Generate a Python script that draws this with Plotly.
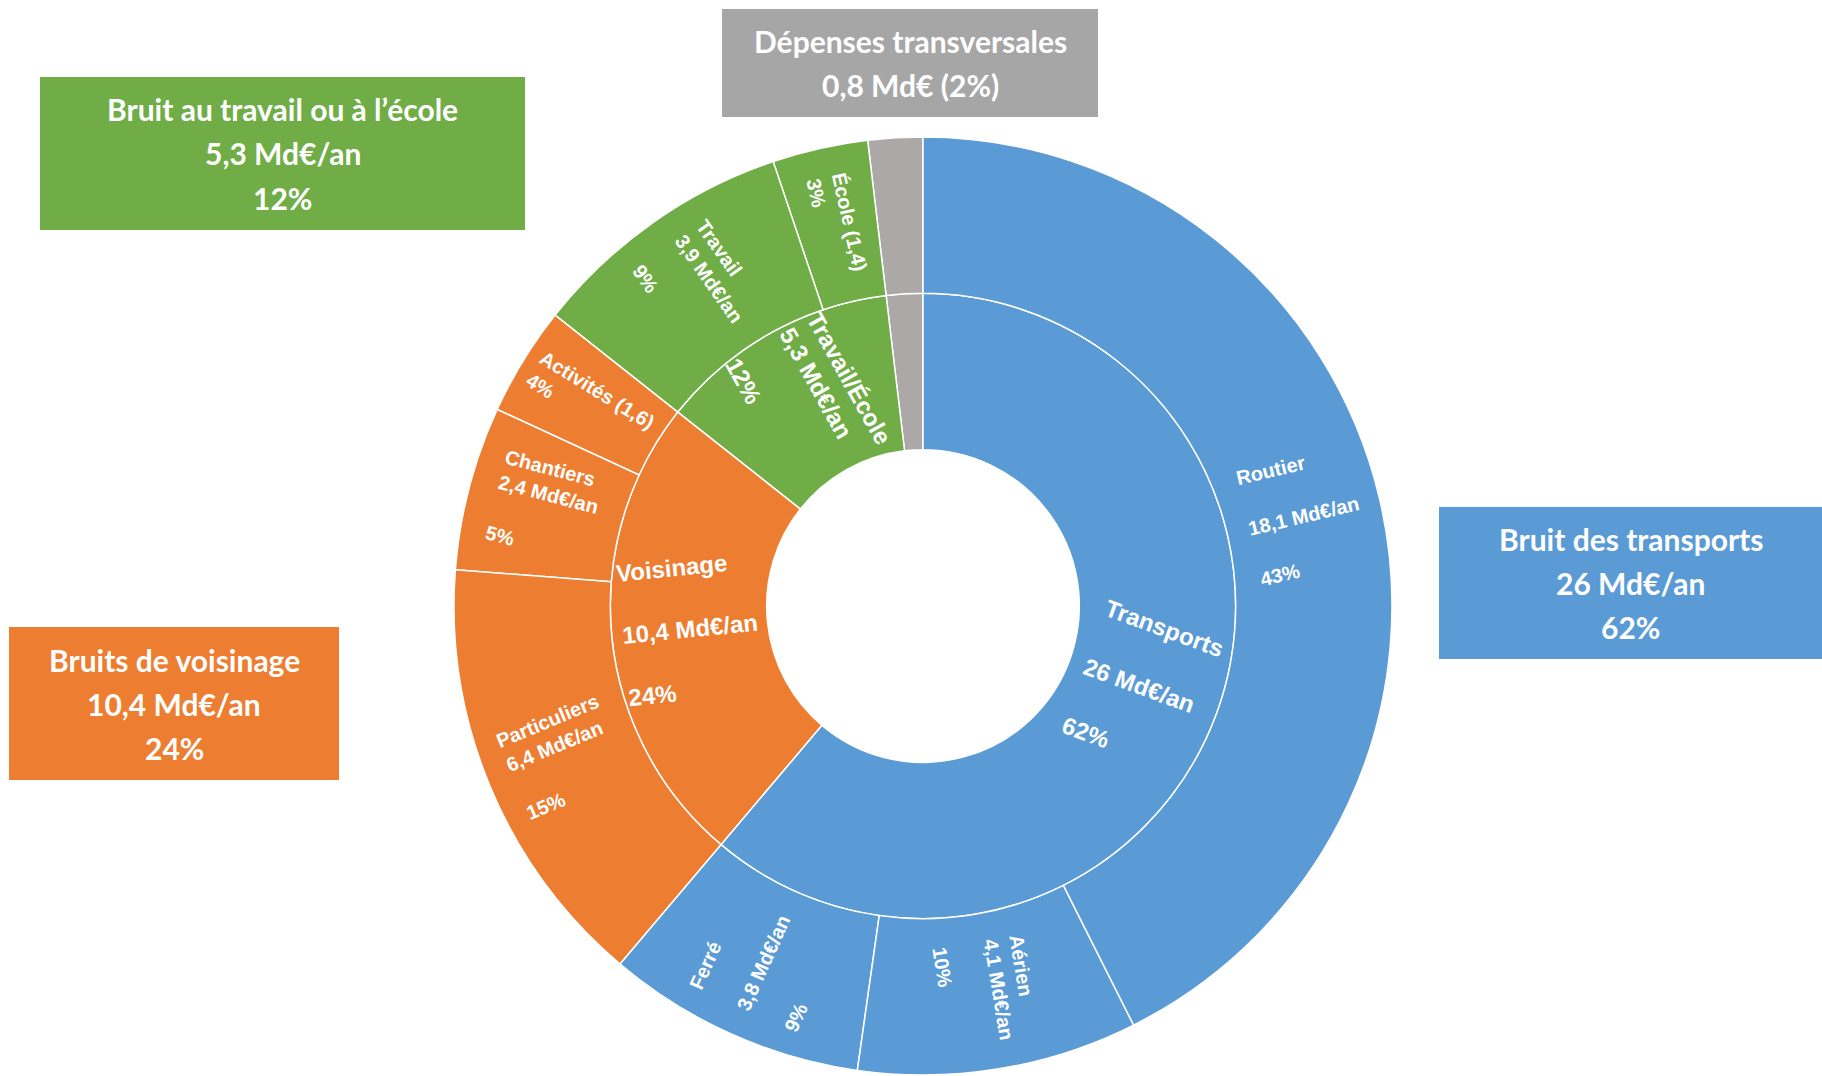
import math
import plotly.graph_objects as go

# Coût social du bruit en France (Md€/an), hiérarchie total -> catégorie -> source
ids = [
    "total",
    "transports", "voisinage", "travail_ecole", "transversal",
    "routier", "aerien", "ferre",
    "particuliers", "chantiers", "activites",
    "travail", "ecole",
    "transversal_detail",
]
parents = [
    "",
    "total", "total", "total", "total",
    "transports", "transports", "transports",
    "voisinage", "voisinage", "voisinage",
    "travail_ecole", "travail_ecole",
    "transversal",
]
values = [
    42.5,
    26.0, 10.4, 5.3, 0.8,
    18.1, 4.1, 3.8,
    6.4, 2.4, 1.6,
    3.9, 1.4,
    0.8,
]
slice_labels = [
    "",
    "Transports<br><br>26 Md€/an<br><br>62%",
    "Voisinage<br><br>10,4 Md€/an<br><br>24%",
    "Travail/École<br>5,3 Md€/an<br><br>12%",
    "",
    "Routier<br><br>18,1 Md€/an<br><br>43%",
    "Aérien<br>4,1 Md€/an<br><br>10%",
    "Ferré<br><br>3,8 Md€/an<br><br>9%",
    "Particuliers<br>6,4 Md€/an<br><br>15%",
    "Chantiers<br>2,4 Md€/an<br><br>5%",
    "Activités (1,6)<br>4%",
    "Travail<br>3,9 Md€/an<br><br>9%",
    "École (1,4)<br>3%",
    "",
]

BLUE, ORANGE, GREEN, GREY = "#5B9BD5", "#ED7D31", "#70AD47", "#ABA8A7"
family_colour = {"total": "white", "transports": BLUE, "voisinage": ORANGE,
                 "travail_ecole": GREEN, "transversal": GREY}
colours = [family_colour[i] if p in ("", "total") else family_colour[p]
           for i, p in zip(ids, parents)]

# Sectors are laid out counter-clockwise from 12 o'clock, so feed them reversed
order = [0] + list(range(1, len(ids)))[::-1]
pick = lambda seq: [seq[k] for k in order]

W, H = 1822, 1076
cx, cy, R = 923, 606, 469

fig = go.Figure(go.Sunburst(
    ids=pick(ids),
    labels=pick(ids),
    parents=pick(parents),
    values=pick(values),
    branchvalues="total",
    sort=False,
    rotation=90,
    textinfo="none",
    marker=dict(colors=pick(colours), line=dict(color="white", width=1.5)),
    leaf=dict(opacity=1),
    hoverinfo="skip",
    domain=dict(x=[(cx - R) / W, (cx + R) / W],
                y=[(H - cy - R) / H, (H - cy + R) / H]),
))

# Radial slice labels: mid-angle of each sector (clockwise from 12 o'clock)
# taken from the cumulative values, placed at the middle of its ring.
annotations = []
total = values[0]
start = {"total": 0.0}
for i, (node, par, v) in enumerate(zip(ids, parents, values)):
    if par == "":
        continue
    a0 = start.get(par, 0.0)
    start[node] = a0
    start[par] = a0 + v
    mid_deg = (a0 + v / 2) / total * 360
    if not slice_labels[i]:
        continue
    depth = 1 if par == "total" else 2
    r = R / 2 if depth == 1 else R * 5 / 6
    th = math.radians(mid_deg)
    px, py = cx + r * math.sin(th), cy - r * math.cos(th)
    angle = mid_deg - 90 if mid_deg < 180 else mid_deg - 270
    annotations.append(dict(
        text=f"<b>{slice_labels[i]}</b>", x=px / W, y=1 - py / H,
        xref="paper", yref="paper", xanchor="center", yanchor="middle",
        textangle=angle, align="left", showarrow=False,
        font=dict(family="Liberation Sans, Arial, sans-serif",
                  size=24 if depth == 1 else 20, color="white"),
    ))

# Summary boxes around the ring: (x0, y0, x1, y1) in pixels from top-left
boxes = [
    dict(rect=(40, 77, 525, 230), colour=GREEN,
         lines=["Bruit au travail ou à l’école", "5,3 Md€/an", "12%"]),
    dict(rect=(722, 9, 1098, 117), colour="#A6A6A6",
         lines=["Dépenses transversales", "0,8 Md€ (2%)"]),
    dict(rect=(1439, 507, 1822, 659), colour=BLUE,
         lines=["Bruit des transports", "26 Md€/an", "62%"]),
    dict(rect=(9, 627, 339, 780), colour=ORANGE,
         lines=["Bruits de voisinage", "10,4 Md€/an", "24%"]),
]
LINE_STEP = 44
shapes = []
for b in boxes:
    x0, y0, x1, y1 = b["rect"]
    shapes.append(dict(type="rect", xref="paper", yref="paper",
                       x0=x0 / W, x1=x1 / W, y0=1 - y1 / H, y1=1 - y0 / H,
                       fillcolor=b["colour"], line=dict(width=0), layer="below"))
    n = len(b["lines"])
    mid = (y0 + y1) / 2
    for k, line in enumerate(b["lines"]):
        ly = mid + (k - (n - 1) / 2) * LINE_STEP
        annotations.append(dict(
            text=f"<b>{line}</b>", x=(x0 + x1) / 2 / W, y=1 - ly / H,
            xref="paper", yref="paper", xanchor="center", yanchor="middle",
            showarrow=False,
            font=dict(family="Lato, Open Sans, sans-serif", size=30, color="white"),
        ))

fig.update_layout(
    width=W, height=H,
    margin=dict(l=0, r=0, t=0, b=0),
    paper_bgcolor="white",
    plot_bgcolor="white",
    showlegend=False,
    shapes=shapes,
    annotations=annotations,
)

fig.write_html("out.html")
